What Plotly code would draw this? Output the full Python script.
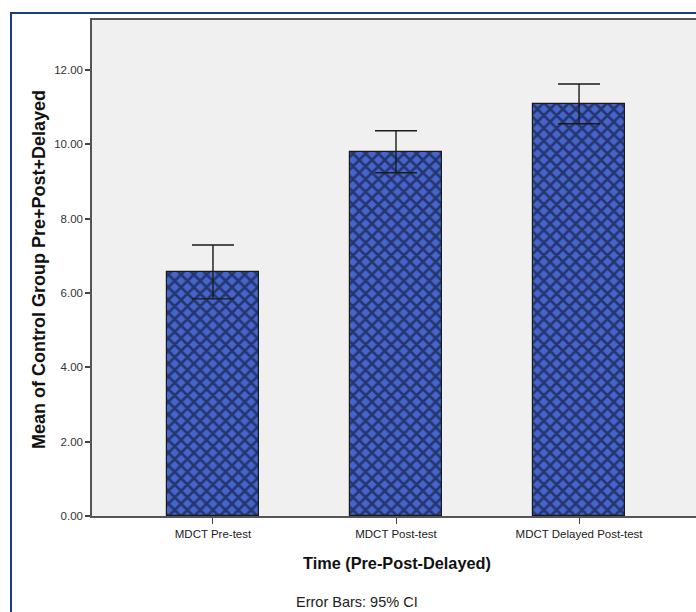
import plotly.graph_objects as go

categories = ["MDCT Pre-test", "MDCT Post-test", "MDCT Delayed Post-test"]
means = [6.56, 9.79, 11.08]
ci_upper = [7.29, 10.36, 11.62]
ci_lower = [5.84, 9.23, 10.55]
y_ticks = [0, 2, 4, 6, 8, 10, 12]
y_tick_labels = ["0.00", "2.00", "4.00", "6.00", "8.00", "10.00", "12.00"]

err_plus = [u - m for u, m in zip(ci_upper, means)]
err_minus = [m - l for m, l in zip(means, ci_lower)]

W, H = 696, 612
L, R, T, B = 92, 0, 20, 96  # plot area: x 92..696, y 20..516

fig = go.Figure()
fig.add_trace(go.Bar(
    x=[0, 1, 2], y=means, width=0.5,
    marker=dict(color="#3f5cc0",
                line=dict(color="#1a1a1a", width=1.2),
                pattern=dict(shape="x", fgcolor="#05050f", bgcolor="#4565cc",
                             size=9, solidity=0.5)),
    error_y=dict(type="data", symmetric=False, array=err_plus, arrayminus=err_minus,
                 color="#1a1a1a", thickness=1.4, width=21),
    hoverinfo="skip",
))

fig.update_layout(
    width=W, height=H,
    margin=dict(l=L, r=R, t=T, b=B),
    paper_bgcolor="white", plot_bgcolor="#f0f0f0",
    showlegend=False, bargap=0,
    font=dict(family="Liberation Sans, Arial, sans-serif", color="#222"),
)
fig.update_xaxes(
    range=[-0.661, 2.639], tickvals=[0, 1, 2], ticktext=categories,
    ticks="outside", ticklen=6, tickcolor="#444", tickwidth=1,
    showline=True, linecolor="#555", linewidth=1.5, mirror=True,
    showgrid=False, zeroline=False,
    tickfont=dict(family="Liberation Sans Narrow, Arial Narrow, Liberation Sans", size=11.5, color="#222"),
)
fig.update_yaxes(
    range=[0, 13.34], tickvals=y_ticks, ticktext=y_tick_labels,
    ticks="outside", ticklen=5, tickcolor="#444", tickwidth=1.5,
    showline=True, linecolor="#555", linewidth=1.5, mirror=False,
    showgrid=False, zeroline=False,
    tickfont=dict(size=11.5, color="#333"),
)

ph = H - T - B
pw = W - L - R
# Axis titles & footnote as annotations
fig.add_annotation(text="<b>Mean of Control Group Pre+Post+Delayed</b>",
                   xref="paper", yref="paper", x=(39 - L) / pw, y=(516 - 270) / ph,
                   textangle=-90, showarrow=False, font=dict(size=18, color="#111"),
                   xanchor="center", yanchor="middle")
fig.add_annotation(text="<b>Time (Pre-Post-Delayed)</b>",
                   xref="paper", yref="paper", x=(397 - L) / pw, y=(516 - 563) / ph,
                   showarrow=False, font=dict(size=16.3, color="#111"),
                   xanchor="center", yanchor="middle")
fig.add_annotation(text="Error Bars: 95% CI",
                   xref="paper", yref="paper", x=(357 - L) / pw, y=(516 - 602) / ph,
                   showarrow=False, font=dict(family="Liberation Sans Narrow, Arial Narrow, Liberation Sans", size=14.5, color="#222"),
                   xanchor="center", yanchor="middle")
# outer frame
fig.add_shape(type="rect", xref="paper", yref="paper",
              x0=(11 - L) / pw, x1=(720 - L) / pw,
              y0=(516 - 640) / ph, y1=(516 - 13) / ph,
              line=dict(color="#1c3a80", width=2), fillcolor="rgba(0,0,0,0)", layer="below")

fig.write_html("out.html")
